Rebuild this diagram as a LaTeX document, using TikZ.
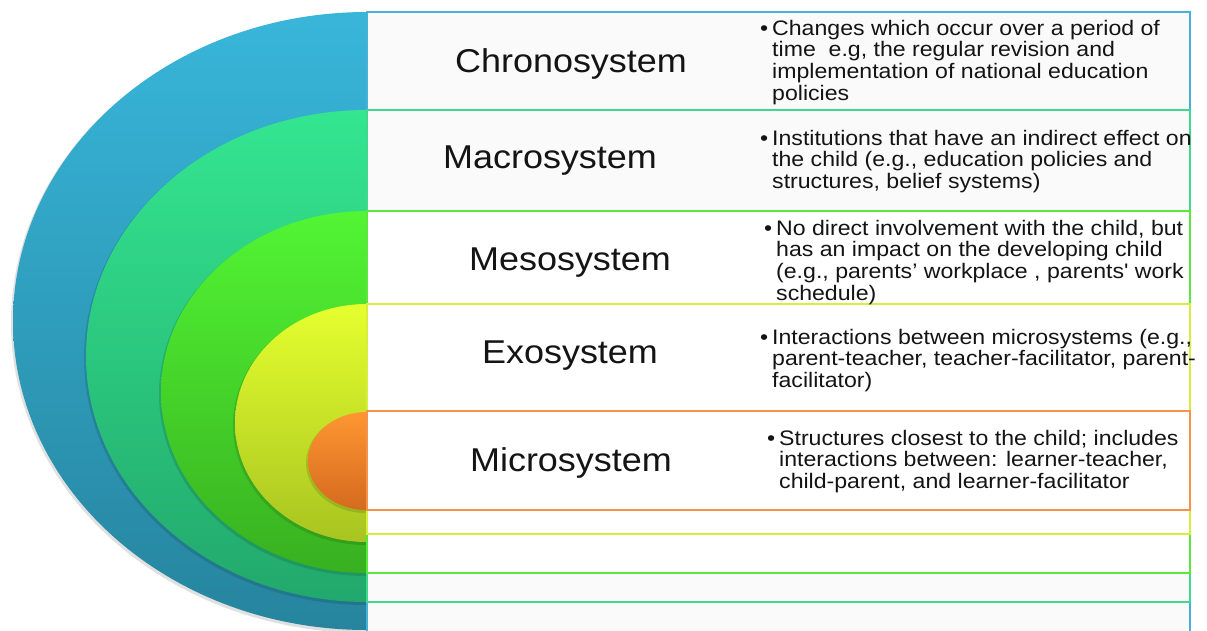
\documentclass[tikz,border=0pt]{standalone}
\usepackage{fontspec}
\setmainfont{Liberation Sans}
\newfontfamily\descfont[FakeStretch=1.1]{Liberation Sans}
\newfontfamily\lblfont[FakeStretch=1.09]{Liberation Sans}
\definecolor{blueA}{HTML}{38B6DA}\definecolor{blueB}{HTML}{26849E}\definecolor{blueL}{HTML}{45B2D8}
\definecolor{tealA}{HTML}{34E690}\definecolor{tealB}{HTML}{22A86C}\definecolor{tealL}{HTML}{3ED98C}
\definecolor{grnA}{HTML}{52F534}\definecolor{grnB}{HTML}{38B020}\definecolor{grnL}{HTML}{5AE83E}
\definecolor{ylwA}{HTML}{E5FF2E}\definecolor{ylwB}{HTML}{A8C420}\definecolor{ylwL}{HTML}{D8EE3C}
\definecolor{orgA}{HTML}{FF9632}\definecolor{orgB}{HTML}{D46A1E}\definecolor{orgL}{HTML}{F7924A}
\definecolor{boxgray}{HTML}{FAFAFA}
\definecolor{txt}{HTML}{141414}
\begin{document}
\begin{tikzpicture}[x=1pt,y=-1pt,
  boxline/.style={line width=2pt},
  lbl/.style={font=\lblfont\fontsize{33}{36}\selectfont, anchor=base, inner sep=0pt, text=txt},
  desc/.style={font=\descfont\fontsize{21}{21.7}\selectfont, anchor=base west, inner sep=0pt, text=txt},
  shadowfill/.style={fill=black, opacity=0.12}]
\useasboundingbox (0,0) rectangle (1207,630);
\fill[white] (0,0) rectangle (1207,630);
% concentric half ellipses
\begin{scope}
\clip (0,0) rectangle (367,630);
\fill[shadowfill] (366,323) ellipse [x radius=355, y radius=310];
\shade[top color=blueA, bottom color=blueB] (367,321) ellipse [x radius=354, y radius=309];
\fill[shadowfill] (366,358) ellipse [x radius=282, y radius=247];
\shade[top color=tealA, bottom color=tealB] (367,356) ellipse [x radius=281, y radius=246];
\fill[shadowfill] (366,394) ellipse [x radius=207, y radius=182];
\shade[top color=grnA, bottom color=grnB] (367,392) ellipse [x radius=206, y radius=181];
\fill[shadowfill] (366,425) ellipse [x radius=133, y radius=120];
\shade[top color=ylwA, bottom color=ylwB] (367,423) ellipse [x radius=132, y radius=119];
\fill[shadowfill] (366,463) ellipse [x radius=60, y radius=50];
\shade[top color=orgA, bottom color=orgB] (367,461) ellipse [x radius=59, y radius=49];
\end{scope}
% nested boxes
\filldraw[boxline, draw=blueL, fill=boxgray] (367,12) rectangle (1190,645);
\filldraw[boxline, draw=tealL, fill=boxgray] (367,110) rectangle (1190,602);
\filldraw[boxline, draw=grnL, fill=white] (367,211) rectangle (1190,573);
\filldraw[boxline, draw=ylwL, fill=white] (367,304) rectangle (1190,534);
\filldraw[boxline, draw=orgL, fill=white] (367,411) rectangle (1190,510);
% labels
\node[lbl] (chrono) at (571,72) {Chronosystem};
\node[lbl] (macro) at (550,168) {Macrosystem};
\node[lbl] (meso) at (570,270) {Mesosystem};
\node[lbl] (exo) at (570,363) {Exosystem};
\node[lbl] (micro) at (571,471) {Microsystem};
% descriptions
\node[desc] (dchrono) at (772,35) {\begin{tabular}[t]{@{}l@{}}\llap{•\hspace{4pt}}Changes which occur over a period of\\ time\ \ e.g, the regular revision and\\ implementation of national education\\ policies\end{tabular}};
\node[desc] (dmacro) at (772,145) {\begin{tabular}[t]{@{}l@{}}\llap{•\hspace{4pt}}Institutions that have an indirect effect on\\ the child (e.g., education policies and\\ structures, belief systems)\end{tabular}};
\node[desc] (dmeso) at (776,235) {\begin{tabular}[t]{@{}l@{}}\llap{•\hspace{4pt}}No direct involvement with the child, but\\ has an impact on the developing child\\ (e.g., parents’ workplace , parents' work\\ schedule)\end{tabular}};
\node[desc] (dexo) at (772,344) {\begin{tabular}[t]{@{}l@{}}\llap{•\hspace{4pt}}Interactions between microsystems (e.g.,\\ parent-teacher, teacher-facilitator, parent-\\ facilitator)\end{tabular}};
\node[desc] (dmicro) at (779,445) {\begin{tabular}[t]{@{}l@{}}\llap{•\hspace{4pt}}Structures closest to the child; includes\\ interactions between: learner-teacher,\\ child-parent, and learner-facilitator\end{tabular}};
\end{tikzpicture}
\end{document}
